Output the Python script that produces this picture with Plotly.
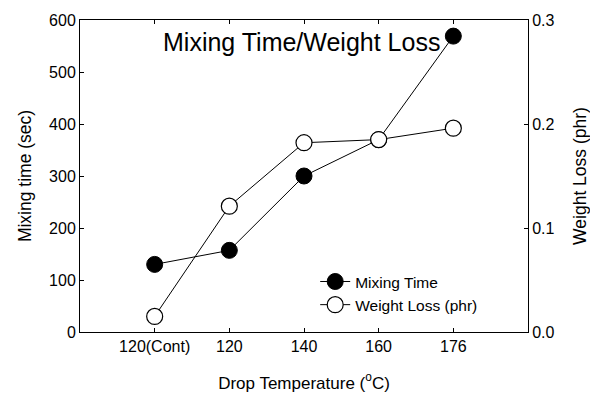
import plotly.graph_objects as go

categories = ["120(Cont)", "120", "140", "160", "176"]
mixing_time = [130, 157, 300, 370, 569]
weight_loss = [0.015, 0.121, 0.182, 0.185, 0.196]

xpos = list(range(1, len(categories) + 1))

fig = go.Figure()
fig.add_trace(go.Scatter(
    x=xpos, y=mixing_time, name="Mixing Time", mode="lines+markers",
    line=dict(color="black", width=1),
    marker=dict(size=16, color="black", line=dict(color="black", width=1)),
    yaxis="y"))
fig.add_trace(go.Scatter(
    x=xpos, y=weight_loss, name="Weight Loss (phr)", mode="lines+markers",
    line=dict(color="black", width=1),
    marker=dict(size=16, color="white", line=dict(color="black", width=1.2)),
    yaxis="y2"))

font = "Liberation Sans, Arial, sans-serif"
fig.update_layout(
    width=590, height=396,
    margin=dict(l=80, r=62, t=20, b=64, autoexpand=False),
    paper_bgcolor="white", plot_bgcolor="white",
    font=dict(family=font, size=16, color="black"),
    showlegend=True,
    legend=dict(x=0.525, y=0.215, xanchor="left", yanchor="top",
                bgcolor="rgba(0,0,0,0)", font=dict(size=15.5), tracegroupgap=0),
    xaxis=dict(range=[0, 6], tickvals=xpos, ticktext=categories,
               ticks="inside", ticklen=4, tickcolor="black",
               showline=True, linecolor="black", linewidth=1, mirror="ticks",
               showgrid=False, zeroline=False, automargin=False,
               title=dict(text="Drop Temperature (<sup>o</sup>C)", font=dict(size=17), standoff=22)),
    yaxis=dict(range=[0, 600], dtick=100, ticks="inside", ticklen=4, tickcolor="black",
               showline=True, linecolor="black", linewidth=1,
               showgrid=False, zeroline=False, automargin=False,
               title=dict(text="Mixing time (sec)", font=dict(size=17.5), standoff=12)),
    yaxis2=dict(range=[0, 0.3], dtick=0.1, tickformat=".1f", overlaying="y", side="right",
                ticks="inside", ticklen=4, tickcolor="black",
                showline=True, linecolor="black", linewidth=1,
                showgrid=False, zeroline=False, automargin=False,
                title=dict(text="Weight Loss (phr)", font=dict(size=17.5), standoff=24)),
    annotations=[dict(text="Mixing Time/Weight Loss", xref="paper", yref="paper",
                      x=0.494, y=0.93, xanchor="center", yanchor="middle",
                      showarrow=False, font=dict(size=25))],
)

fig.write_html("out.html")
